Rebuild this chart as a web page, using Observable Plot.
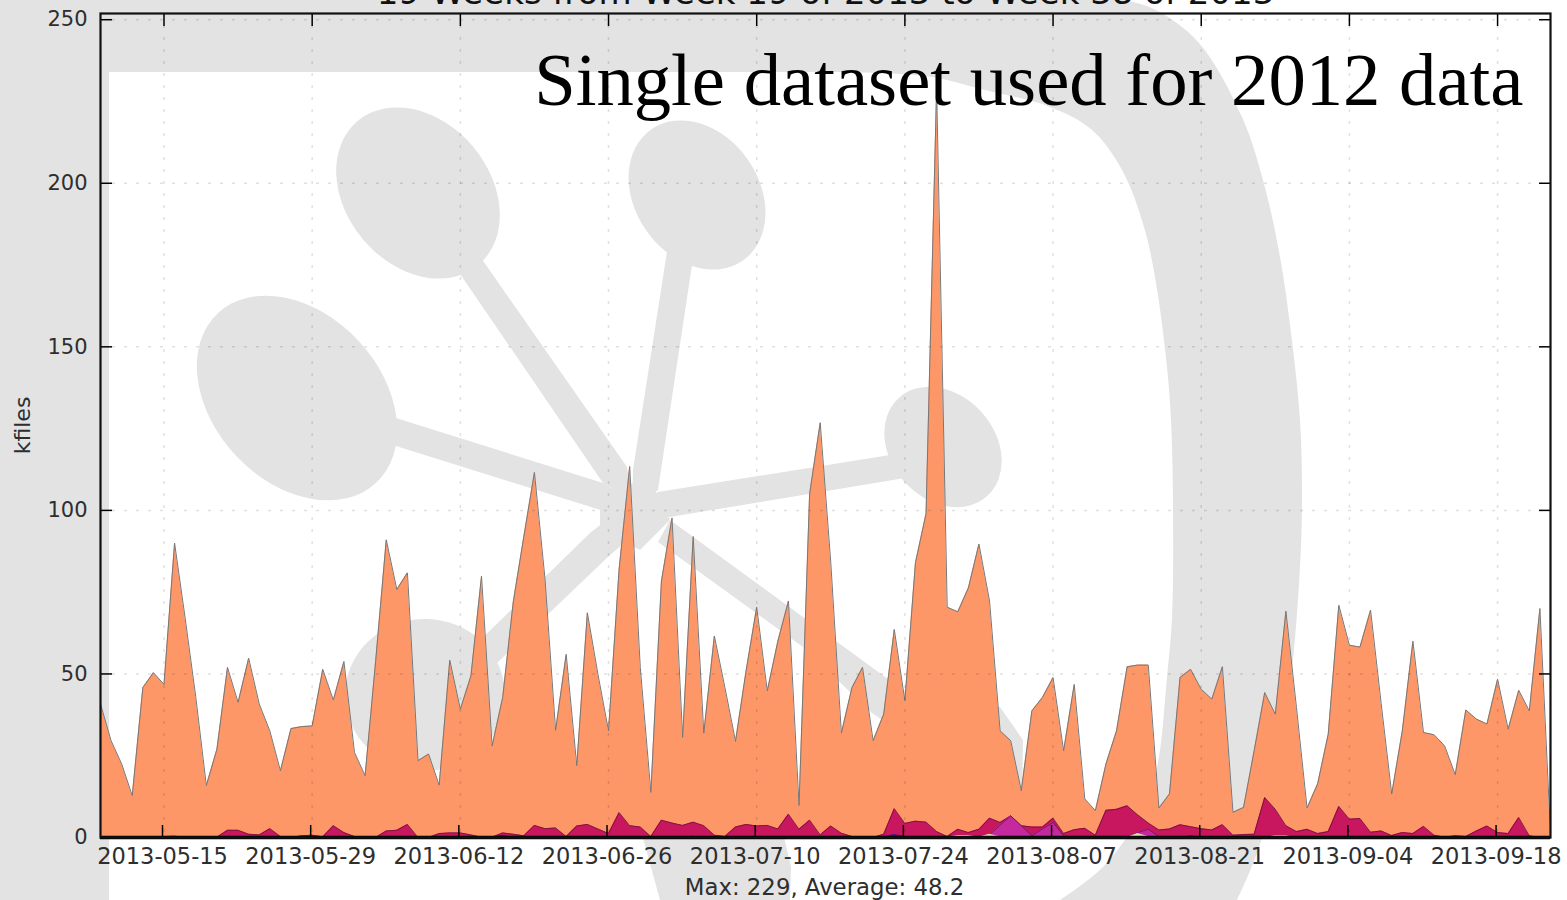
<!DOCTYPE html>
<html><head><meta charset="utf-8">
<script src="https://cdn.jsdelivr.net/npm/d3@7"></script>
<script src="https://cdn.jsdelivr.net/npm/@observablehq/plot@0.6"></script>
<style>html,body{margin:0;padding:0;background:#fff;overflow:hidden}svg{display:block}</style>
</head><body><div id="c"></div>
<script>
const startDay = "2013-05-09";
const tickLabels = ["2013-05-15","2013-05-29","2013-06-12","2013-06-26","2013-07-10","2013-07-24","2013-08-07","2013-08-21","2013-09-04","2013-09-18"];
const yTicks = [0,50,100,150,200,250];
const titleText = "19 Weeks from Week 19 of 2013 to Week 38 of 2013";
const noteText = "Single dataset used for 2012 data";
const captionText = "Max: 229, Average: 48.2";
const yLabel = "kfiles";

// cumulative tops of the stacked layers, one value per day
const orangeTop = [40.8,29.6,22.5,12.8,45.8,50.4,46.8,90,67,43,15.9,27,52,41.3,54.8,40.8,32.6,20.4,33.3,33.9,34.1,51.4,42,53.8,26,18.9,54,91,75.8,80.9,23.5,25.5,16,54.2,39.2,49.4,79.9,28,42.8,72,92,111.6,79,32.8,56,22,68.7,49.9,32.6,82,113.4,52,13.8,78.4,97.7,30.6,92,31.9,61.6,45.8,29.4,51,70.4,44.8,60,72.3,9.8,105,126.8,84,31.9,45.8,52,29.6,37.7,63.6,41.8,84,99,229,70.4,69,76.3,89.7,72.3,32.6,29.6,14.3,38.7,42.8,48.9,26.5,46.8,11.8,8.2,22.5,32.6,52.2,52.7,52.7,9,13.3,48.9,51.4,45.3,42.3,52.2,7.7,9.2,26.5,44.3,37.7,69.2,39.7,9,16.4,31.6,71,58.8,58.2,69.5,41,13.3,32.6,60,32.1,31.4,28,19.2,39,36.2,34.7,48.4,33.1,45,38.7,70,1];
const crimsonTop = [0,0,0,0,0,0,0.3,0.4,0.1,0,0,0.1,2.2,2.2,1,0.8,2.7,0.3,0,0.5,0.7,0.2,3.6,1.5,0.3,0,0,2,2.2,4,0,0,1.2,1.4,1.4,0.8,0.1,0.1,1.4,1,0.5,3.7,2.7,2.9,0.3,3.5,4,2.6,1.2,7.6,3.6,3.2,0.3,5.3,4.4,3.7,4.7,3.6,0.7,0.3,3.2,4,3.5,3.7,2.6,7.1,2.5,5.3,0.8,3.5,1.3,0.3,0,0,1,8.8,4.3,5,4.7,1.8,0.3,2.5,1.5,2.5,5.9,4.6,6.6,3.6,3.2,3.2,5.9,1.2,2.4,2.8,0.7,8.3,8.6,9.7,6.9,4.4,2.3,2.6,3.9,3.3,2.7,2.3,3.9,0.7,0.9,1,12.2,8.6,3.6,1.8,2.5,1.2,1.8,9.5,5.6,5.8,1.6,2,0.6,1.5,1.2,3.4,0.7,0.1,0.5,0.3,2,3.5,1.5,1.2,6.1,0.5,0,0];
const magentaTop = [0,0,0,0,0,0,0,0,0,0,0,0,0,0,0,0,0,0,0,0,0,0,0,0,0,0,0,0,0,0,0,0,0,0,0,0,0,0,0,0,0,0,0,0,0,0,0,0,0,0,0,0,0,0,0,0,0,0,0,0,0,0,0,0,0,0,0,0,0,0,0,0,0,0,0,0,0,0,0,0,0,0,0,0,0.8,3.8,6.6,3.6,0.5,2.6,4.6,0.5,0,0,0,0,0,0.2,1.5,2.5,0.3,0,0,0,0,0,0,0,0,0,0,0,0,0,0,0,0,0,0,0,0,0,0,0,0,0,0,0,0,0,0,0,0,0,0,0,0,0];
const beigeTop = [0,0,0,0,0,0,0,0,0,0,0,0,0,0,0,0,0,0,0,0,0,0,0,0,0,0,0,0,0,0,0,0,0,0,0,0,0,0,0,0,0,0,0,0,0,0,0,0,0,0,0,0,0,0,0,0,0,0,0,0,0,0,0,0,0,0,0,0,0,0,0,0,0,0,0,0,0,0,0,0,0.1,0.6,0.6,0.1,1,0.2,0,0,0,0,0,0,0,0,0,0,0,0,1.2,0.3,0,0,0,0,0,0,0,0,0,0,0,0.5,0.5,0,0,0,0,0,0,0,0,0,0,0,0,0,0,0,0,0,0,0,0,0,0,0,0,0];
const violetTop = [0,0,0,0,0,0,0,0,0,0,0,0,0,0,0,0,0,0,0,0,0,0,0,0,0,0,0,0,0,0,0,0,0,0,0,0,0,0.1,0.7,0.1,0,0,0,0,0,0,0,0,0,0,0,0,0,0,0,0.1,0.4,0.1,0,0,0,0,0,0,0,0,0,0,0,0,0,0,0,0,0.2,0.9,0.3,0,0,0,0,0,0,0,0,0,0,0,0,0,0,0,0,0,0,0,0,0,0,0,0,0,0,0.5,0.1,0,0,0,0,0,0,0,0,0,0,0,0,0,0,0,0,0,0,0,0,0,0,0,0,0,0,0,0];

const parse = d3.utcParse("%Y-%m-%d");
const days = orangeTop.map((_, i) => d3.utcDay.offset(parse(startDay), i));
const table = days.map((d, i) => ({d, o: orangeTop[i], c: crimsonTop[i], m: magentaTop[i], b: beigeTop[i], v: violetTop[i]}));
const tickDates = tickLabels.map(parse);
const fmt = d3.utcFormat("%Y-%m-%d");
const tickFill = "#2e2e2e";

// logo watermark that sits behind the whole figure
const watermark = () => {
  const g = d3.create("svg:g").attr("fill", "#e3e3e3");
  const smooth = d3.line().curve(d3.curveCatmullRom);
  const outer = [[1125,0],[1156,10],[1199,43],[1242,117],[1263,180],[1280,257],[1291,333],[1300,420],[1302,500],[1300,567],[1293,660],[1280,770],[1257,853],[1237,900]];
  const inner = [[1060,900],[1103,867],[1140,815],[1157,767],[1167,677],[1172,617],[1173,500],[1171,420],[1167,367],[1156,283],[1144,227],[1122,170],[1092,130],[1050,107],[985,90],[925,76],[800,72]];
  g.append("path").attr("d", "M0,0L" + smooth(outer).slice(1) + "L" + smooth(inner).slice(1) + "L109,72L109,900L0,900Z");
  const blobs = [[297,398,116,84,47],[418,193,94,72,50],[697,195,80,62,55],[943,447,66,52,48],[425,695,80,76,0]];
  for (const [x,y,a,b,r] of blobs)
    g.append("ellipse").attr("cx",x).attr("cy",y).attr("rx",a).attr("ry",b).attr("transform",`rotate(${r} ${x} ${y})`);
  const spokes = [
    "M380,413L603,483L632,500L610,513L380,441Z",
    "M445,252L472,245L627,467L632,500L603,483Z",
    "M668,245L695,245L658,490L632,510L633,470Z",
    "M658,492L890,455L905,478L670,517L632,510Z",
    "M470,650L590,533L632,500L640,530L610,555L497,663Z",
    "M658,542L670,520L803,617L903,690L1000,707L1023,740L1022,800L1000,800L872,713L803,647Z",
    "M600,490L650,480L670,520L640,550L600,530Z",
    "M638,820L780,820L791,867L790,900L660,900Z"
  ];
  for (const d of spokes) g.append("path").attr("d", d);
  return g.node();
};

const chart = Plot.plot({
  width: 1567, height: 900,
  marginLeft: 100, marginRight: 17, marginTop: 13, marginBottom: 63,
  style: {background: "transparent", fontFamily: "DejaVu Sans"},
  x: {type: "utc", domain: [days[0], days[days.length-1]], label: null},
  y: {domain: [0, 251.9], label: null},
  marks: [
    watermark,
    Plot.areaY(table, {x:"d", y:"o", fill:"#fd9768", curve:"linear"}),
    Plot.lineY(table, {x:"d", y:"o", stroke:"#777", strokeWidth:1}),
    Plot.areaY(table, {x:"d", y:"c", fill:"#c8175e"}),
    Plot.lineY(table, {x:"d", y:"c", stroke:"#6b1038", strokeWidth:0.8}),
    Plot.areaY(table, {x:"d", y:"m", fill:"#c42a9e"}),
    Plot.lineY(table, {x:"d", y:"m", stroke:"#5c1250", strokeWidth:0.7}),
    Plot.areaY(table, {x:"d", y:"b", fill:"#e9dfa6"}),
    Plot.areaY(table, {x:"d", y:"v", fill:"#4a148c"}),
    Plot.ruleX(tickDates, {stroke:"#000", strokeOpacity:0.12, strokeWidth:1.5, strokeDasharray:"3,9"}),
    Plot.ruleY(yTicks, {stroke:"#000", strokeOpacity:0.12, strokeWidth:1.5, strokeDasharray:"3,9"}),
    Plot.axisX({anchor:"bottom", ticks:tickDates, tickSize:-12, tickPadding:23, tickFormat:fmt, fontSize:22.5, fill:tickFill, stroke:"#000", strokeWidth:1.5, label:null, dx:-1.5}),
    Plot.axisX({anchor:"top", ticks:tickDates, tickSize:-12, tickFormat:null, text:null, stroke:"#000", strokeWidth:1.5, label:null}),
    Plot.axisY({anchor:"left", ticks:yTicks, tickSize:-12, tickPadding:25, fontSize:21, fill:tickFill, stroke:"#000", strokeWidth:1.5, label:null}),
    Plot.axisY({anchor:"right", ticks:yTicks, tickSize:-12, text:null, stroke:"#000", strokeWidth:1.5, label:null}),
    Plot.ruleY([0], {stroke:"#000", strokeWidth:3.5}),
    Plot.frame({stroke:"#111", strokeWidth:2.2}),
    Plot.text([titleText], {frameAnchor:"top", dy:-10, fontSize:34, fill:"#111", lineAnchor:"bottom"}),
    Plot.text([noteText], {frameAnchor:"top-right", dx:-27, dy:38, fontSize:74.7, fontFamily:"Liberation Serif", fill:"#000", lineAnchor:"top", textAnchor:"end"}),
    Plot.text([captionText], {frameAnchor:"bottom", dy:50, dx:-1, fontSize:22.8, fill:tickFill, lineAnchor:"middle"}),
    Plot.text([yLabel], {frameAnchor:"left", dx:-78, rotate:-90, fontSize:22, fill:tickFill, lineAnchor:"middle", textAnchor:"middle"})
  ]
});
document.getElementById("c").appendChild(chart);
</script></body></html>
